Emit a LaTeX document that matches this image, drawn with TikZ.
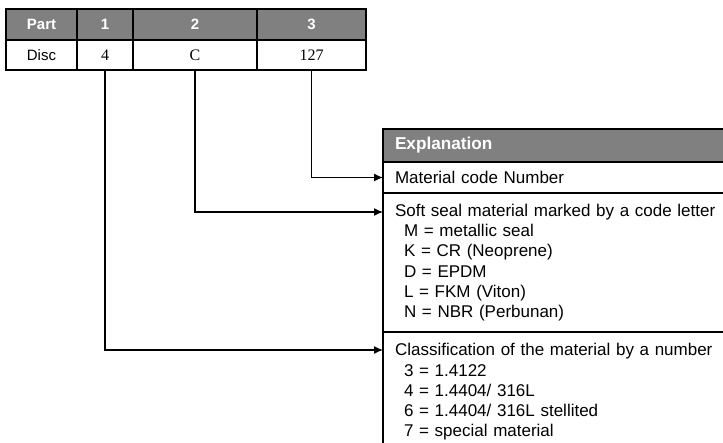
\documentclass[tikz,border=0pt]{standalone}
\usepackage{fontspec}
\setmainfont{Liberation Serif}
\setsansfont{Liberation Sans}
\usetikzlibrary{arrows.meta,positioning}
\definecolor{hdrgray}{HTML}{808080}
\tikzset{
  hdcell/.style={draw=black,line width=1.2pt,fill=hdrgray,text=white,font=\sffamily\bfseries\fontsize{15}{17}\selectfont,minimum height=31pt,inner sep=0pt,outer sep=0pt,anchor=north west},
  valcell/.style={draw=black,line width=1.2pt,fill=white,font=\fontsize{16}{18}\selectfont,minimum height=30pt,inner sep=0pt,outer sep=0pt,anchor=north west},
  explhd/.style={draw=black,line width=1.2pt,fill=hdrgray,text=white,font=\sffamily\bfseries\fontsize{17.2}{20}\selectfont,minimum width=360pt,minimum height=33pt,text width=336pt,inner xsep=11pt,inner ysep=0pt,outer sep=0pt,anchor=north west,align=left},
  sect/.style={draw=black,line width=1.2pt,fill=white,font=\sffamily\fontsize{17}{20.3}\selectfont,minimum width=360pt,text width=336pt,inner xsep=11pt,inner ysep=0pt,outer sep=0pt,anchor=north west,align=left},
  conn/.style={line width=1.2pt,-{Latex[length=9pt,width=8pt]}}
}
\newcommand{\itm}{\\\hspace*{9pt}}
\begin{document}
\begin{tikzpicture}[x=1pt,y=1pt]
\useasboundingbox (0,0) rectangle (723,-443);
% code table
\foreach \nm/\xa/\xb/\hd/\vl in {p/6/77/Part/\sffamily\fontsize{15}{17}\selectfont Disc, a/77/133/1/4, b/133/257/2/C, c/257/366/3/127}{
  \pgfmathsetmacro{\w}{\xb-\xa}
  \node[hdcell,minimum width=\w pt] (h\nm) at (\xa,-9) {\hd};
  \node[valcell,minimum width=\w pt] (v\nm) at (\xa,-40) {\vl};
}
% explanation box
\node[explhd] (expl) at (383,-129) {Explanation};
\node[sect,minimum height=31pt] (code) at (383,-162) {Material code Number};
\node[sect,minimum height=139pt] (seal) at (383,-193) {Soft seal material marked by a code letter\itm M = metallic seal\itm K = CR (Neoprene)\itm D = EPDM\itm L = FKM (Viton)\itm N = NBR (Perbunan)};
\node[sect,minimum height=120pt] (cls) at (383,-332) {Classification of the material by a number\itm 3 = 1.4122\itm 4 = 1.4404/ 316L\itm 6 = 1.4404/ 316L stellited\itm 7 = special material};
% connectors
\coordinate (inCode) at (code.west);
\coordinate (inSeal) at (383,-212);
\coordinate (inCls) at (383,-350);
\draw[conn] (vc.south) |- (inCode);
\draw[conn] (vb.south) |- (inSeal);
\draw[conn] (va.south) |- (inCls);
\end{tikzpicture}
\end{document}
